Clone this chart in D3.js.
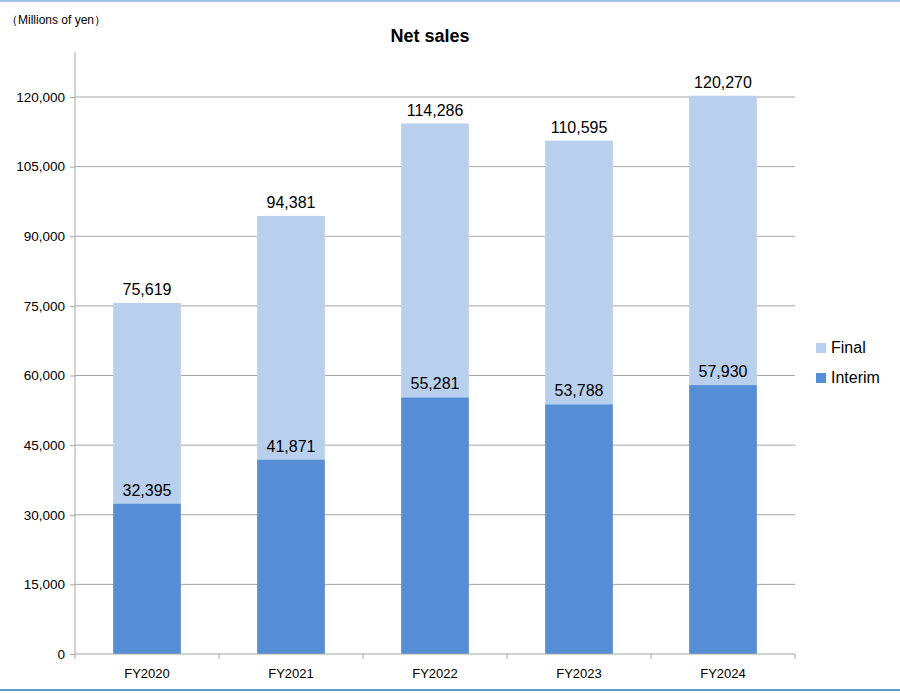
<!DOCTYPE html>
<html><head><meta charset="utf-8">
<script src="https://cdn.jsdelivr.net/npm/d3@7"></script>
<style>body{margin:0;background:#fff}</style>
</head><body>
<svg id="chart" width="900" height="693"></svg>
<script>
// chart values
const years = ["FY2020", "FY2021", "FY2022", "FY2023", "FY2024"];
const interim = [32395, 41871, 55281, 53788, 57930];
const total = [75619, 94381, 114286, 110595, 120270];
const yTicks = [0, 15000, 30000, 45000, 60000, 75000, 90000, 105000, 120000];

const svg = d3.select("#chart");
const font = "'Liberation Sans', 'DejaVu Sans', sans-serif";
const left = 75, right = 795, bottom = 654;

// frame lines
svg.append("line").attr("x1", 0).attr("x2", 900).attr("y1", 1).attr("y2", 1)
	.attr("stroke", "#9dc3e6").attr("stroke-width", 2);
svg.append("line").attr("x1", 0).attr("x2", 900).attr("y1", 690).attr("y2", 690)
	.attr("stroke", "#5b9bd5").attr("stroke-width", 2);

const x = d3.scaleBand().domain(years).range([left, right]).paddingInner(0.53).paddingOuter(0.265);
const y = d3.scaleLinear().domain([0, 120000]).range([bottom, 97]);

// gridlines
svg.append("g").selectAll("line").data(yTicks.slice(1)).join("line")
	.attr("x1", left).attr("x2", right).attr("y1", d => y(d)).attr("y2", d => y(d))
	.attr("stroke", "#a6a6a6");

// bars
years.forEach((yr, i) => {
	svg.append("rect").attr("x", x(yr)).attr("width", x.bandwidth())
		.attr("y", y(total[i])).attr("height", y(interim[i]) - y(total[i])).attr("fill", "#b9cfee");
	svg.append("rect").attr("x", x(yr)).attr("width", x.bandwidth())
		.attr("y", y(interim[i])).attr("height", bottom - y(interim[i])).attr("fill", "#558ed5");
	svg.append("text").attr("x", x(yr) + x.bandwidth() / 2).attr("y", y(total[i]) - 8)
		.attr("text-anchor", "middle").attr("font-family", font).attr("font-size", 16).attr("fill", "#000")
		.text(d3.format(",")(total[i]));
	svg.append("text").attr("x", x(yr) + x.bandwidth() / 2).attr("y", y(interim[i]) - 8)
		.attr("text-anchor", "middle").attr("font-family", font).attr("font-size", 16).attr("fill", "#000")
		.text(d3.format(",")(interim[i]));
});

// y axis
const yAxis = svg.append("g").attr("transform", `translate(${left},0)`)
	.call(d3.axisLeft(y).tickValues(yTicks).tickFormat(d3.format(",")).tickSize(5).tickSizeOuter(0));
yAxis.select(".domain").attr("d", `M0,${bottom}V52`).attr("stroke", "#a6a6a6");
yAxis.selectAll(".tick line").attr("stroke", "#a6a6a6");
yAxis.selectAll("text").attr("font-family", font).attr("font-size", 13.5).attr("fill", "#000").attr("x", -10);

// x axis
const xg = svg.append("g").attr("transform", `translate(0,${bottom})`);
xg.append("line").attr("x1", left).attr("x2", right).attr("stroke", "#a6a6a6");
const step = x.step();
const seps = years.map((yr, i) => left + i * (right - left) / years.length).concat([right]);
xg.selectAll(".sep").data(seps).join("line").attr("x1", d => d).attr("x2", d => d)
	.attr("y1", 0).attr("y2", 5).attr("stroke", "#a6a6a6");
xg.selectAll("text").data(years).join("text")
	.attr("x", d => x(d) + x.bandwidth() / 2).attr("y", 24).attr("text-anchor", "middle")
	.attr("font-family", font).attr("font-size", 13).attr("fill", "#000").text(d => d);

// titles
svg.append("text").attr("x", 430).attr("y", 42).attr("text-anchor", "middle")
	.attr("font-family", font).attr("font-size", 18).attr("font-weight", "bold").text("Net sales");
svg.append("text").attr("x", 6).attr("y", 24).attr("font-family", font).attr("font-size", 12).text("（Millions of yen）");

// legend
const legend = [["Final", "#b9cfee"], ["Interim", "#558ed5"]];
legend.forEach((d, i) => {
	svg.append("rect").attr("x", 816).attr("y", 343 + i * 30).attr("width", 10).attr("height", 10).attr("fill", d[1]);
	svg.append("text").attr("x", 831).attr("y", 353 + i * 30).attr("font-family", font)
		.attr("font-size", 16).text(d[0]);
});
</script>
</body></html>
